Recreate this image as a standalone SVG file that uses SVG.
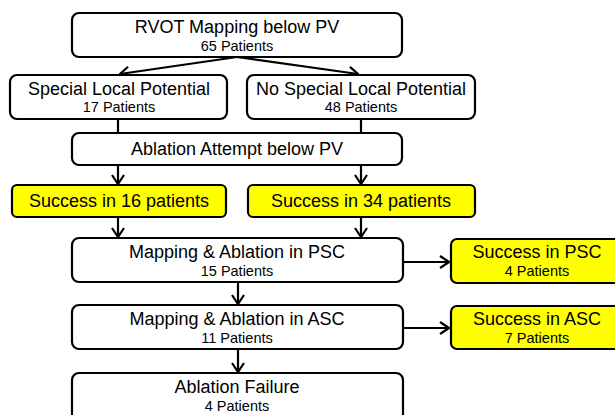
<svg xmlns="http://www.w3.org/2000/svg" width="615" height="415" viewBox="0 0 615 415">
  <style>
    .box { fill: #ffffff; stroke: #000000; stroke-width: 2.2; }
    .ok { fill: #ffff00; stroke: #000000; stroke-width: 2.2; }
    .t { font-family: "Liberation Sans", Arial, sans-serif; font-size: 18px; fill: #000000; text-anchor: middle; }
    .s { font-family: "Liberation Sans", Arial, sans-serif; font-size: 14.5px; fill: #000000; text-anchor: middle; }
    .ln { fill: none; stroke: #000000; stroke-width: 2.2; }
  </style>
  <defs>
    <marker id="arrow" viewBox="0 0 11 14" refX="10" refY="7" markerWidth="11" markerHeight="14" markerUnits="userSpaceOnUse" orient="auto">
      <path d="M1,1 L10,7 L1,13" fill="none" stroke="#000000" stroke-width="2.2"/>
    </marker>
  </defs>

  <rect width="615" height="415" fill="#ffffff"/>

  <g id="connectors">
    <!-- split from the top box -->
    <line class="ln" x1="237" y1="57" x2="120" y2="74" marker-end="url(#arrow)"/>
    <line class="ln" x1="237" y1="57" x2="358" y2="74" marker-end="url(#arrow)"/>
    <!-- both branches join the ablation attempt -->
    <line class="ln" x1="118" y1="119" x2="118" y2="133"/>
    <line class="ln" x1="361" y1="119" x2="361" y2="133"/>
    <!-- to the success boxes -->
    <line class="ln" x1="118" y1="165" x2="118" y2="184" marker-end="url(#arrow)"/>
    <line class="ln" x1="361" y1="165" x2="361" y2="184" marker-end="url(#arrow)"/>
    <!-- on to PSC mapping -->
    <line class="ln" x1="118" y1="217" x2="118" y2="237" marker-end="url(#arrow)"/>
    <line class="ln" x1="361" y1="217" x2="361" y2="237" marker-end="url(#arrow)"/>
    <!-- PSC to ASC to failure -->
    <line class="ln" x1="238" y1="282" x2="238" y2="304" marker-end="url(#arrow)"/>
    <line class="ln" x1="238" y1="349" x2="238" y2="372" marker-end="url(#arrow)"/>
    <!-- side outcomes -->
    <line class="ln" x1="403" y1="262" x2="449" y2="262" marker-end="url(#arrow)"/>
    <line class="ln" x1="403" y1="328" x2="449" y2="328" marker-end="url(#arrow)"/>
  </g>

  <g id="rvot-mapping">
    <rect class="box" x="72" y="13" width="330" height="44" rx="7"/>
    <text class="t" x="237" y="33">RVOT Mapping below PV</text>
    <text class="s" x="237" y="51">65 Patients</text>
  </g>

  <g id="special-potential">
    <rect class="box" x="10" y="75" width="217" height="44" rx="7"/>
    <text class="t" x="119" y="95">Special Local Potential</text>
    <text class="s" x="119" y="112">17 Patients</text>
  </g>

  <g id="no-special-potential">
    <rect class="box" x="247" y="75" width="228" height="44" rx="7"/>
    <text class="t" x="361" y="95">No Special Local Potential</text>
    <text class="s" x="361" y="112">48 Patients</text>
  </g>

  <g id="ablation-attempt">
    <rect class="box" x="72" y="133" width="330" height="32" rx="7"/>
    <text class="t" x="237" y="155">Ablation Attempt below PV</text>
  </g>

  <g id="success-16">
    <rect class="ok" x="12" y="185" width="214" height="32" rx="5"/>
    <text class="t" x="119" y="207">Success in 16 patients</text>
  </g>

  <g id="success-34">
    <rect class="ok" x="248" y="185" width="227" height="32" rx="5"/>
    <text class="t" x="361" y="207">Success in 34 patients</text>
  </g>

  <g id="mapping-psc">
    <rect class="box" x="72" y="238" width="331" height="44" rx="7"/>
    <text class="t" x="237" y="258">Mapping &amp; Ablation in PSC</text>
    <text class="s" x="237" y="276">15 Patients</text>
  </g>

  <g id="success-psc">
    <rect class="ok" x="451" y="239" width="172" height="44" rx="6"/>
    <text class="t" x="537" y="258">Success in PSC</text>
    <text class="s" x="537" y="276">4 Patients</text>
  </g>

  <g id="mapping-asc">
    <rect class="box" x="72" y="305" width="331" height="44" rx="7"/>
    <text class="t" x="237" y="325">Mapping &amp; Ablation in ASC</text>
    <text class="s" x="237" y="343">11 Patients</text>
  </g>

  <g id="success-asc">
    <rect class="ok" x="451" y="306" width="172" height="43" rx="6"/>
    <text class="t" x="537" y="325">Success in ASC</text>
    <text class="s" x="537" y="343">7 Patients</text>
  </g>

  <g id="ablation-failure">
    <rect class="box" x="72" y="373" width="331" height="50" rx="7"/>
    <text class="t" x="237" y="393">Ablation Failure</text>
    <text class="s" x="237" y="411">4 Patients</text>
  </g>
</svg>
